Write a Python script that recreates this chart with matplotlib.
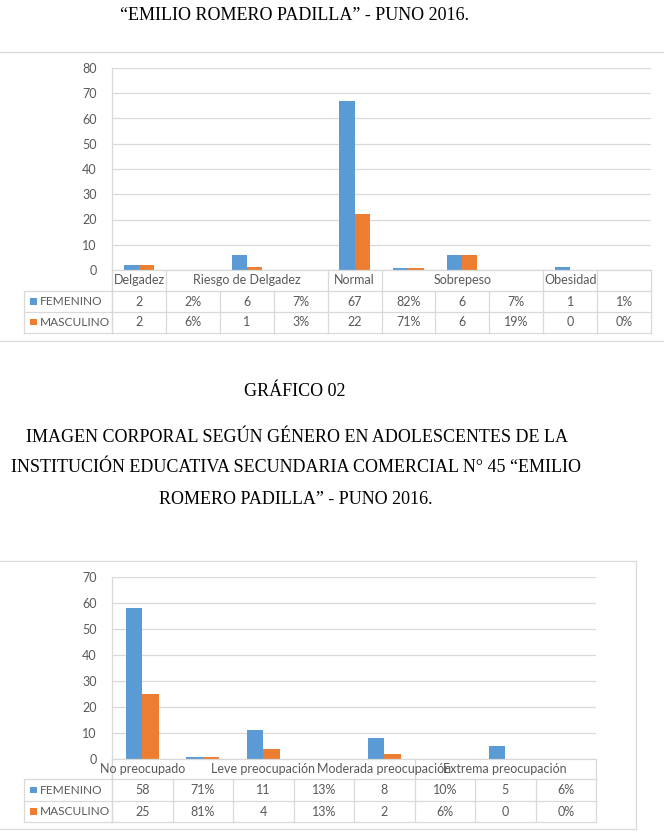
import numpy as np
import matplotlib
matplotlib.use("Agg")
import matplotlib.pyplot as plt
from matplotlib.lines import Line2D
from matplotlib.patches import Rectangle
from matplotlib.transforms import blended_transform_factory

# ---------------- data ----------------
c1_categories = ["Delgadez", "", "Riesgo de Delgadez", "", "Normal", "", "Sobrepeso", "", "Obesidad", ""]
c1_femenino = [2, 0.02, 6, 0.07, 67, 0.82, 6, 0.07, 1, 0.01]
c1_masculino = [2, 0.06, 1, 0.03, 22, 0.71, 6, 0.19, 0, 0.00]

c2_categories = ["No preocupado", "", "Leve preocupación", "", "Moderada preocupación", "", "Extrema preocupación", ""]
c2_femenino = [58, 0.71, 11, 0.13, 8, 0.10, 5, 0.06]
c2_masculino = [25, 0.81, 4, 0.13, 2, 0.06, 0, 0.00]

series_names = ["FEMENINO", "MASCULINO"]

title_top = "“EMILIO ROMERO PADILLA” - PUNO 2016."
title2_lines = ["GRÁFICO 02",
                "IMAGEN CORPORAL SEGÚN GÉNERO EN ADOLESCENTES DE LA",
                "INSTITUCIÓN EDUCATIVA SECUNDARIA COMERCIAL N° 45 “EMILIO",
                "ROMERO PADILLA” - PUNO 2016."]

# ---------------- style ----------------
W, H = 664, 833
BLUE = "#5B9BD5"
ORANGE = "#ED7D31"
GRID = "#D9D9D9"
TXT = "#595959"
FONT = "Lato"
SERIF = "Liberation Serif"
TFS = 9.0
LFS = 8.6

fig = plt.figure(figsize=(W / 100, H / 100), dpi=100)
fig.patch.set_facecolor("white")


def fx(x):
    return x / W


def fy(y):
    return 1 - y / H


def fline(x0, x1, y0, y1, color=GRID, lw=0.9):
    fig.add_artist(Line2D([fx(x0), fx(x1)], [fy(y0), fy(y1)], transform=fig.transFigure,
                          color=color, lw=lw))


def fmt(v, i):
    if i % 2 == 1:
        return f"{round(v * 100)}%"
    return f"{v:g}"


def draw_chart(L, R, T, B, ymax, cats, fem, masc, rows, hdr_borders, bw):
    n = len(cats)
    ax = fig.add_axes([fx(L), fy(B), (R - L) / W, (B - T) / H])
    x = np.arange(n)
    ax.bar(x - bw / 2, fem, bw, color=BLUE, zorder=3)
    ax.bar(x + bw / 2, masc, bw, color=ORANGE, zorder=3)
    ax.set_xlim(-0.5, n - 0.5)
    ax.set_ylim(0, ymax)
    ax.set_yticks(np.arange(0, ymax + 1, 10))
    ax.set_xticks([])
    ax.tick_params(axis="y", length=0, pad=11, labelsize=9, labelcolor=TXT)
    for lab in ax.get_yticklabels():
        lab.set_fontfamily(FONT)
    ax.grid(axis="y", color=GRID, lw=0.9, zorder=0)
    for s in ["top", "right", "bottom"]:
        ax.spines[s].set_visible(False)
    ax.spines["left"].set_color(GRID)
    ax.spines["left"].set_linewidth(0.9)

    tr = blended_transform_factory(ax.transData, fig.transFigure)
    r0, r1, r2, r3 = rows  # header top, header bottom, fem bottom, masc bottom

    def tline(xa, xb, ya, yb):
        fig.add_artist(Line2D([xa, xb], [fy(ya), fy(yb)], transform=tr, color=GRID, lw=0.9))

    for r in rows:
        tline(-0.5, n - 0.5, r, r)
    for k in range(n + 1):
        tline(k - 0.5, k - 0.5, r1, r3)
    for k in hdr_borders:
        tline(k - 0.5, k - 0.5, r0, r1)
    tline(-0.5, -0.5, r0, r3)
    for i, c in enumerate(cats):
        if c:
            fig.text(i, fy((r0 + r1) / 2), c, transform=tr, ha="center", va="center",
                     fontsize=TFS, color=TXT, family=FONT)
    for i in range(n):
        fig.text(i, fy((r1 + r2) / 2), fmt(fem[i], i), transform=tr, ha="center",
                 va="center", fontsize=TFS, color=TXT, family=FONT)
        fig.text(i, fy((r2 + r3) / 2), fmt(masc[i], i), transform=tr, ha="center",
                 va="center", fontsize=TFS, color=TXT, family=FONT)
    fline(24, L, r1, r1)
    fline(24, L, r2, r2)
    fline(24, L, r3, r3)
    fline(24, 24, r1, r3)
    for (ya, yb), name, col in [((r1, r2), series_names[0], BLUE), ((r2, r3), series_names[1], ORANGE)]:
        yc = (ya + yb) / 2
        fig.add_artist(Rectangle((fx(30), fy(yc + 3)), 6.5 / W, 6.5 / H, transform=fig.transFigure,
                                 color=col, lw=0))
        fig.text(fx(40), fy(yc), name, ha="left", va="center", fontsize=LFS,
                 color=TXT, family=FONT)
    return ax


# ---------------- titles ----------------
fig.text(fx(295), fy(15), title_top, ha="center", va="center", fontsize=13, family=SERIF, color="black")
fig.text(fx(295), fy(392), title2_lines[0], ha="center", va="center", fontsize=13, family=SERIF, color="black")
fig.text(fx(297), fy(437), title2_lines[1], ha="center", va="center", fontsize=13, family=SERIF, color="black")
fig.text(fx(296), fy(468), title2_lines[2], ha="center", va="center", fontsize=13, family=SERIF, color="black")
fig.text(fx(296), fy(499), title2_lines[3], ha="center", va="center", fontsize=13, family=SERIF, color="black")

# chart frames
fline(0, W, 52, 52)
fline(0, W, 341, 341)
fline(0, 636, 561, 561)
fline(636, 636, 561, 829)
fline(0, 636, 829, 829)

# ---------------- charts ----------------
draw_chart(112, 651, 68, 270, 80, c1_categories, c1_femenino, c1_masculino,
           (270, 291, 312, 333), [0, 1, 4, 5, 8, 9, 10], 0.28)
draw_chart(112, 596, 577, 759, 70, c2_categories, c2_femenino, c2_masculino,
           (759, 779, 801, 822), [0, 5, 8], 0.27)

fig.savefig("out.png", dpi=100, facecolor="white")
